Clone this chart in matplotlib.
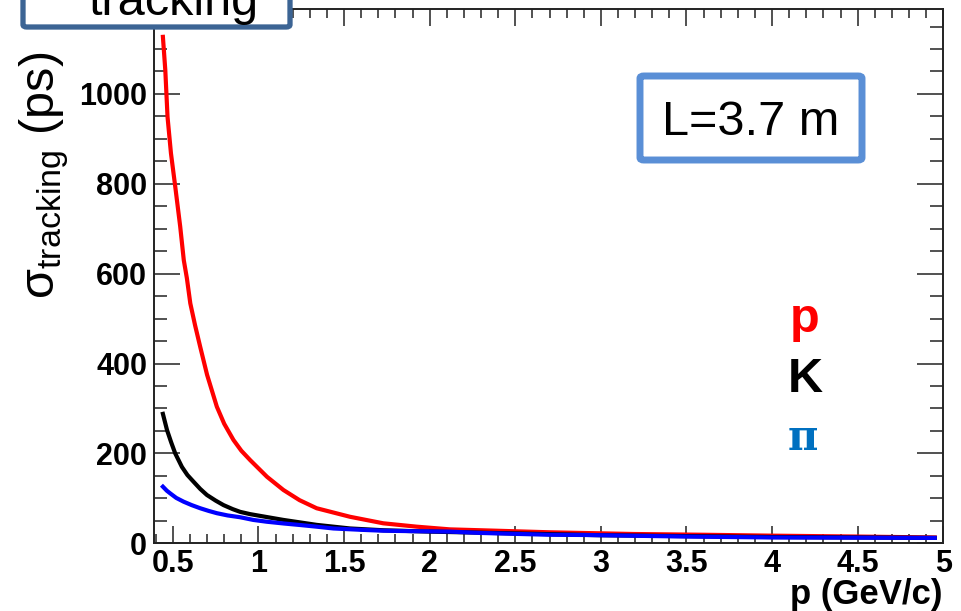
import matplotlib
matplotlib.use("Agg")
import matplotlib.pyplot as plt
from matplotlib.patches import FancyBboxPatch
from matplotlib.ticker import MultipleLocator

# ---- data ----
p_proton = [0.442, 0.456, 0.469, 0.489, 0.514, 0.543, 0.564, 0.582, 0.602, 0.63,
            0.66, 0.7, 0.757, 0.8, 0.854, 0.9, 0.952, 1.05, 1.146, 1.24, 1.34,
            1.535, 1.729, 1.924, 2.118, 2.39, 2.7, 3.19, 3.6, 4.0, 4.5, 4.95]
sigma_proton = [1127, 1053, 949, 868, 794, 705, 630, 590, 534, 485,
                437, 375, 304, 266, 230, 206, 185, 148, 118.6, 96, 78,
                59, 44.5, 37, 31, 28, 24.5, 20.7, 19, 17, 15, 13]

p_kaon = [0.442, 0.466, 0.49, 0.514, 0.553, 0.585, 0.621, 0.66, 0.699, 0.75,
          0.796, 0.85, 0.893, 0.95, 1.01, 1.146, 1.34, 1.535, 1.73, 2.0,
          2.5, 3.0, 3.5, 4.0, 4.5, 4.95]
sigma_kaon = [288, 252, 225, 200, 170, 152, 137, 121, 107.5, 95,
              85, 76, 70, 65, 61, 52, 41, 33, 29, 26,
              22, 18, 16, 14, 13, 12]

p_pion = [0.442, 0.465, 0.485, 0.52, 0.563, 0.61, 0.66, 0.71, 0.757, 0.82,
          0.893, 0.97, 1.049, 1.15, 1.243, 1.34, 1.438, 1.6, 1.729, 1.9,
          2.118, 2.3, 2.5, 2.7, 2.9, 3.5, 4.0, 4.5, 4.95]
sigma_pion = [126, 117, 111, 101, 92.6, 85, 78, 72, 67, 62,
              58, 52, 48, 44, 40.7, 37, 33, 30, 28, 27,
              26, 23, 21, 19, 18.5, 15, 13, 12.5, 12]

x_ticks = [0.5, 1, 1.5, 2, 2.5, 3, 3.5, 4, 4.5, 5]
x_tick_labels = ["0.5", "1", "1.5", "2", "2.5", "3", "3.5", "4", "4.5", "5"]
y_ticks = [0, 200, 400, 600, 800, 1000]
y_tick_labels = ["0", "200", "400", "600", "800", "1000"]

FONT = "Liberation Sans"
plt.rcParams["font.family"] = [FONT, "DejaVu Sans"]

W, H = 961, 611
fig = plt.figure(figsize=(W / 100, H / 100), dpi=100)
ax = fig.add_axes([154 / W, 1 - 543.3 / H, (943.3 - 154) / W, (543.3 - 9) / H])

ax.plot(p_proton, sigma_proton, color="#ff0000", lw=3.0)
ax.plot(p_kaon, sigma_kaon, color="#000000", lw=3.0)
ax.plot(p_pion, sigma_pion, color="#0000ff", lw=3.0)

ax.set_xlim(0.39, 5.0)
ax.set_ylim(0, 1189)

ax.set_xticks(x_ticks)
ax.set_xticklabels(x_tick_labels)
ax.set_yticks(y_ticks)
ax.set_yticklabels(y_tick_labels)
ax.xaxis.set_minor_locator(MultipleLocator(0.1))
ax.yaxis.set_minor_locator(MultipleLocator(50))

for s in ax.spines.values():
    s.set_linewidth(1.4)
    s.set_color("#222222")

ax.tick_params(axis="x", which="major", direction="in", length=12.2, width=1.1,
               top=True, pad=4, labelsize=22, color="#222222")
ax.tick_params(axis="x", which="minor", direction="in", length=6.2, width=1.1,
               top=True, color="#222222")
ax.tick_params(axis="y", which="major", direction="in", length=18.7, width=1.1,
               right=True, pad=5, labelsize=22, color="#222222")
ax.tick_params(axis="y", which="minor", direction="in", length=9.5, width=1.1,
               right=True, color="#222222")
for lab in ax.get_xticklabels() + ax.get_yticklabels():
    lab.set_fontweight("bold")

# axis labels
fig.text(942 / W, 1 - 604 / H, "p (GeV/c)", ha="right", va="baseline",
         fontsize=25, fontweight="bold", family=FONT)
fig.text(44 / W, 1 - 175 / H, r"$\mathregular{σ_{tracking}}$ (ps)", rotation=90,
         ha="center", va="center", fontsize=35, family=FONT)

# top-left box (cut by the figure edge, as in the reference)
box1 = FancyBboxPatch((23 / W, 1 - 27 / H), (290 - 23) / W, 60 / H,
                      boxstyle="round,pad=0,rounding_size=0.004",
                      transform=fig.transFigure, facecolor="white",
                      edgecolor="#3c6494", linewidth=3.8, zorder=10)
fig.patches.append(box1)
fig.text(88 / W, 1 - 15 / H, "tracking", ha="left", va="baseline",
         fontsize=35, family=FONT, zorder=11)

# L = 3.7 m box
box2 = FancyBboxPatch((640 / W, 1 - 160 / H), (862 - 640) / W, (160 - 76) / H,
                      boxstyle="round,pad=0,rounding_size=0.004",
                      transform=fig.transFigure, facecolor="white",
                      edgecolor="#5a8fd6", linewidth=5.0, zorder=10)
fig.patches.append(box2)
fig.text(751 / W, 1 - 135 / H, "L=3.7 m", ha="center", va="baseline",
         fontsize=35, family=FONT, zorder=11)

# species labels
fig.text(790 / W, 1 - 332 / H, "p", ha="left", va="baseline", fontsize=35,
         fontweight="bold", color="#ff0000", family=FONT)
fig.text(788 / W, 1 - 392 / H, "K", ha="left", va="baseline", fontsize=35,
         fontweight="bold", color="#000000", family=FONT)
fig.text(788 / W, 1 - 450 / H, "π", ha="left", va="baseline", fontsize=30,
         fontweight="bold", color="#0070c0", family=["DejaVu Serif"])

fig.savefig("out.png", dpi=100)
